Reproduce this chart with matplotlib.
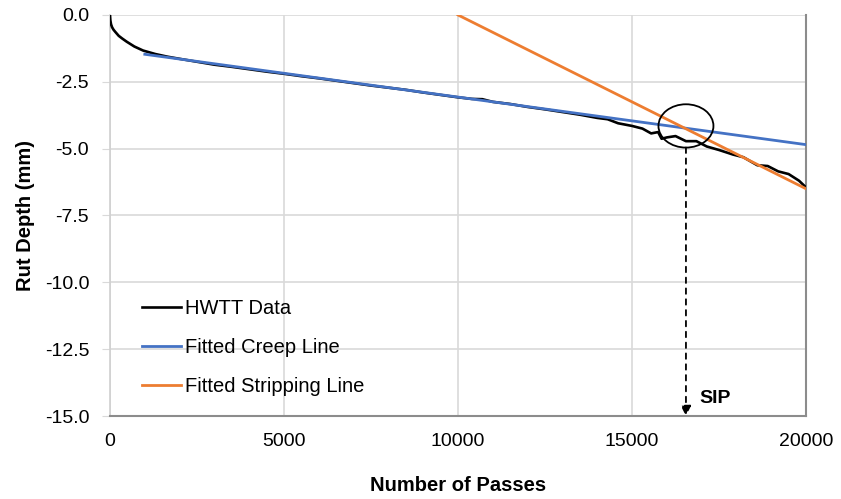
import matplotlib
matplotlib.use("Agg")
import matplotlib.pyplot as plt
from matplotlib.patches import Ellipse

plt.rcParams['font.family'] = ['Liberation Sans', 'DejaVu Sans']

# HWTT measured rut depth
hwtt_passes = [0, 10, 30, 60, 100, 150, 250, 350, 480, 700, 950, 1300, 1650, 2000,
               2500, 3000, 3500, 4000, 4500, 5000, 5500, 6000, 6500, 7000, 7500,
               8000, 8500, 9000, 9500, 10000, 10400, 10700, 11000, 11500, 12000,
               12500, 13000, 13500, 14000, 14300, 14600, 15000, 15300, 15550,
               15750, 15850, 16000, 16250, 16550, 16850, 17150, 17500, 17900,
               18200, 18600, 18900, 19200, 19500, 19800, 20000]
hwtt_depth = [0, -0.2, -0.35, -0.46, -0.55, -0.63, -0.78, -0.88, -1.0, -1.18, -1.33,
              -1.46, -1.56, -1.64, -1.75, -1.86, -1.94, -2.03, -2.12, -2.2, -2.29,
              -2.37, -2.46, -2.55, -2.64, -2.72, -2.8, -2.9, -2.99, -3.08, -3.14,
              -3.15, -3.25, -3.33, -3.44, -3.53, -3.63, -3.73, -3.85, -3.9, -4.05,
              -4.15, -4.25, -4.43, -4.38, -4.63, -4.58, -4.53, -4.72, -4.72, -4.92,
              -5.05, -5.22, -5.32, -5.62, -5.65, -5.85, -5.95, -6.2, -6.45]

creep_passes = [1000, 20000]
creep_depth = [-1.47, -4.85]

strip_passes = [10000, 20000]
strip_depth = [0.0, -6.5]

sip_passes = 16550
sip_depth = -4.15

fig = plt.figure(figsize=(8.41, 4.99), dpi=100)
ax = fig.add_axes([0.1308, 0.1663, 0.8276, 0.8037])

ax.plot(hwtt_passes, hwtt_depth, color='black', lw=1.9, label='HWTT Data', zorder=3)
ax.plot(creep_passes, creep_depth, color='#4472C4', lw=2, label='Fitted Creep Line', zorder=4)
ax.plot(strip_passes, strip_depth, color='#ED7D31', lw=2, label='Fitted Stripping Line', zorder=4)

ax.add_patch(Ellipse((sip_passes, sip_depth), 1580, 1.62, fill=False,
                     edgecolor='black', lw=1.3, zorder=5))
ax.annotate('', xy=(sip_passes, -15), xytext=(sip_passes, sip_depth - 0.81),
            arrowprops=dict(arrowstyle='-|>', linestyle=(0, (3, 3)), color='black',
                            lw=1.3, mutation_scale=15, shrinkA=0, shrinkB=0), zorder=5)
ax.text(sip_passes + 400, -14.35, 'SIP', fontsize=14, fontweight='bold',
        ha='left', va='center')

ax.set_xlim(0, 20000)
ax.set_ylim(-15, 0)
ax.set_xticks([0, 5000, 10000, 15000, 20000])
ax.set_yticks([0, -2.5, -5, -7.5, -10, -12.5, -15])
ax.set_yticklabels(['0.0', '-2.5', '-5.0', '-7.5', '-10.0', '-12.5', '-15.0'])
ax.grid(True, color='#d9d9d9', lw=1.2, zorder=0)
ax.set_axisbelow(True)

ax.tick_params(axis='x', length=0, pad=12, labelsize=14)
ax.tick_params(axis='y', length=6, color='#d9d9d9', pad=9, labelsize=14)
ax.spines['top'].set_visible(False)
ax.spines['left'].set_color('#d0d0d0')
ax.spines['left'].set_linewidth(1.2)
ax.spines['bottom'].set_color('#8c8c8c')
ax.spines['bottom'].set_linewidth(1.5)
ax.spines['right'].set_color('#8c8c8c')
ax.spines['right'].set_linewidth(1.5)

ax.set_xlabel('Number of Passes', fontsize=14.5, fontweight='bold', labelpad=19)
ax.set_ylabel('Rut Depth (mm)', fontsize=14.5, fontweight='bold', labelpad=7)

ax.legend(loc='lower left', bbox_to_anchor=(0.02, 0.005), frameon=False, fontsize=14.5,
          handlelength=1.95, handletextpad=0.2, labelspacing=1.0)

fig.savefig('out.png', dpi=100)
